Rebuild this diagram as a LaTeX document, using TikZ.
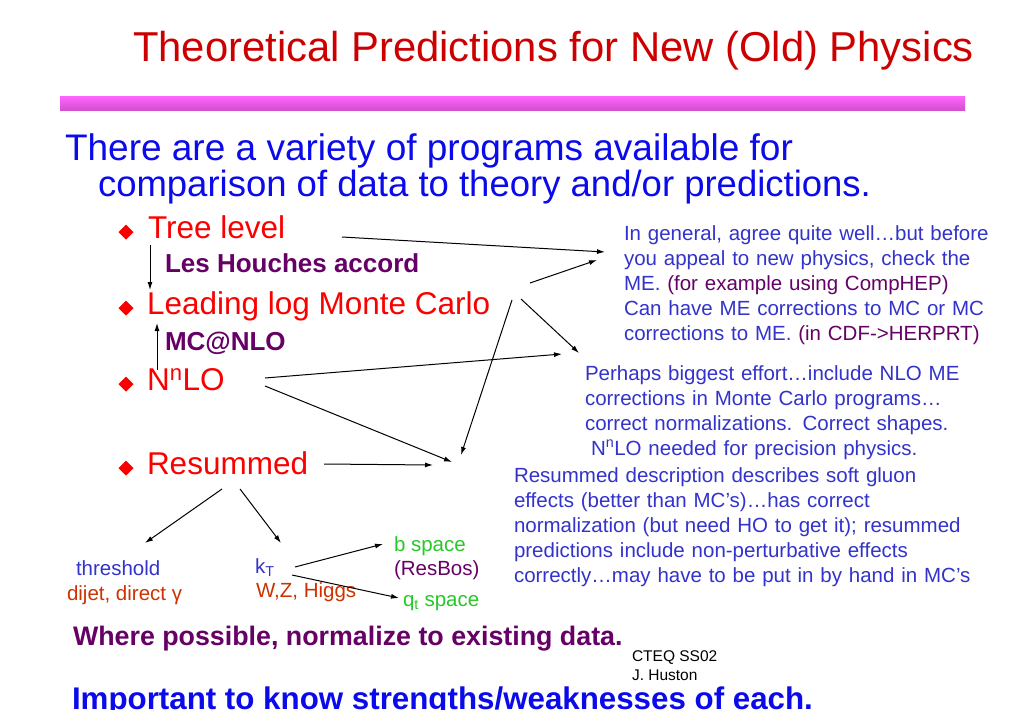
\documentclass[tikz,border=0pt]{standalone}
\usepackage{fontspec}
\setmainfont{Liberation Sans}
\usetikzlibrary{positioning,calc,shapes.geometric,arrows.meta}
\definecolor{titlered}{RGB}{204,0,0}
\definecolor{listred}{RGB}{250,0,0}
\definecolor{topblue}{RGB}{10,10,235}
\definecolor{noteblue}{RGB}{51,51,204}
\definecolor{mypurple}{RGB}{102,0,102}
\definecolor{myorange}{RGB}{204,51,0}
\definecolor{mygreen}{RGB}{40,200,40}
\definecolor{barpink}{RGB}{255,102,255}
\definecolor{bardark}{RGB}{210,80,205}

\begin{document}
\begin{tikzpicture}[x=1pt,y=-1pt,
  every node/.style={inner sep=0pt,outer sep=0pt,anchor=base west},
  item/.style={listred,font=\fontsize{31.5}{31.5}\selectfont},
  bul/.style={diamond,fill=listred,minimum size=15pt,inner sep=0pt,anchor=center},
  sub/.style={mypurple,font=\bfseries\fontsize{26}{26}\selectfont},
  note/.style={noteblue,font=\fontsize{20.5}{25}\selectfont,align=left,text width=470pt},
  leaf/.style={font=\fontsize{20.5}{25}\selectfont},
  arr/.style={-{Latex[length=8pt,width=5pt]},line width=1pt}
]
\useasboundingbox[fill=white] (0,0) rectangle (1024,709);

% the title and the bar
\node[titlered,font=\fontsize{41.8}{41.8}\selectfont] (title) at (133,62) {Theoretical Predictions for New (Old) Physics};
\shade[top color=barpink,bottom color=bardark] (60,96) rectangle (965,110);

% the intro
\node[topblue,font=\fontsize{37}{37}\selectfont] (intro) at (65,160) {There are a variety of programs available for};
\node[topblue,font=\fontsize{36.5}{36.5}\selectfont] (introb) at (98,196) {comparison of data to theory and/or predictions.};

% the list
\node[bul] (b1) at (126,232) {};
\node[item] (tree) at (148,238) {Tree level};
\node[sub] (lha) at (165,272) {Les Houches accord};
\node[bul] (b2) at (126,308) {};
\node[item] (lmc) at (147,314) {Leading log Monte Carlo};
\node[sub] (mcnlo) at (165,350) {MC@NLO};
\node[bul] (b3) at (126,384) {};
\node[item] (nlo) at (147,390) {N\textsuperscript{n}LO};
\node[bul] (b4) at (126,468) {};
\node[item] (res) at (147,474) {Resummed};

% the notes
\node[note] (gen) at (624,240) {In general, agree quite well…but before\\
  you appeal to new physics, check the\\
  ME. {\color{mypurple}(for example using CompHEP)}\\
  Can have ME corrections to MC or MC\\
  corrections to ME. {\color{mypurple}(in CDF->HERPRT)}};
\node[note] (eff) at (585,380) {Perhaps biggest effort…include NLO ME\\
  corrections in Monte Carlo programs…\\
  correct normalizations. Correct shapes.\\
  \hspace*{6pt}N\textsuperscript{n}LO needed for precision physics.};
\node[note] (soft) at (514,482) {Resummed description describes soft gluon\\
  effects (better than MC’s)…has correct\\
  normalization (but need HO to get it); resummed\\
  predictions include non-perturbative effects\\
  correctly…may have to be put in by hand in MC’s};

% the resummed branches
\node[leaf,noteblue] (thr) at (76,575) {threshold};
\node[leaf,myorange] (dij) at (67,600) {dijet, direct γ};
\node[leaf,noteblue] (kt) at (255,573) {k\textsubscript{T}};
\node[leaf,myorange] (wzh) at (256,597) {W,Z, Higgs};
\node[leaf,mygreen] (bsp) at (394,551) {b space};
\node[leaf,mypurple] (resbos) at (394,575) {(ResBos)};
\node[leaf,mygreen] (qt) at (403,606) {q\textsubscript{t} space};

% the footer
\node[mypurple,font=\bfseries\fontsize{26.8}{26.8}\selectfont] (norm) at (73,645) {Where possible, normalize to existing data.};
\node[font=\fontsize{15.5}{15.5}\selectfont] (cteq) at (632,661) {CTEQ SS02};
\node[font=\fontsize{15.5}{15.5}\selectfont] (huston) at (632,680) {J. Huston};
\node[topblue,font=\bfseries\fontsize{31.3}{31.3}\selectfont] (imp) at (72,709) {Important to know strengths/weaknesses of each.};

% the arrows
\draw[arr] ($(tree.base west)+(2,7)$) -- ($(lmc.base west)+(3,-24)$);
\draw[arr] ($(mcnlo.base west)+(-8,20)$) -- ($(lmc.base west)+(10,9)$);
\draw[arr] ($(tree.base west)+(194,-1)$) -- ($(gen.base west)+(-19,12)$);
\draw[arr] ($(lmc.base west)+(383,-31)$) -- ($(gen.base west)+(-27,20)$);
\draw[arr] ($(lmc.base west)+(374,-15)$) -- ($(eff.base west)+(-6,-27)$);
\draw[arr] ($(lmc.base west)+(365,-14)$) -- ($(soft.base west)+(-53,-27)$);
\draw[arr] ($(nlo.base west)+(118,-12)$) -- ($(eff.base west)+(-23,-26)$);
\draw[arr] ($(nlo.base west)+(118,-4)$) -- ($(soft.base west)+(-62,-20)$);
\draw[arr] ($(res.base west)+(177,-10)$) -- ($(soft.base west)+(-81,-17)$);
\draw[arr] ($(res.base west)+(75,15)$) -- ($(thr.base west)+(69,-32)$);
\draw[arr] ($(res.base west)+(93,15)$) -- ($(kt.base west)+(26,-30)$);
\draw[arr] ($(kt.base west)+(40,-6)$) -- ($(bsp.base west)+(-11,-7)$);
\draw[arr] ($(kt.base west)+(37,2)$) -- ($(qt.base west)+(-4,-8)$);
\end{tikzpicture}
\end{document}
